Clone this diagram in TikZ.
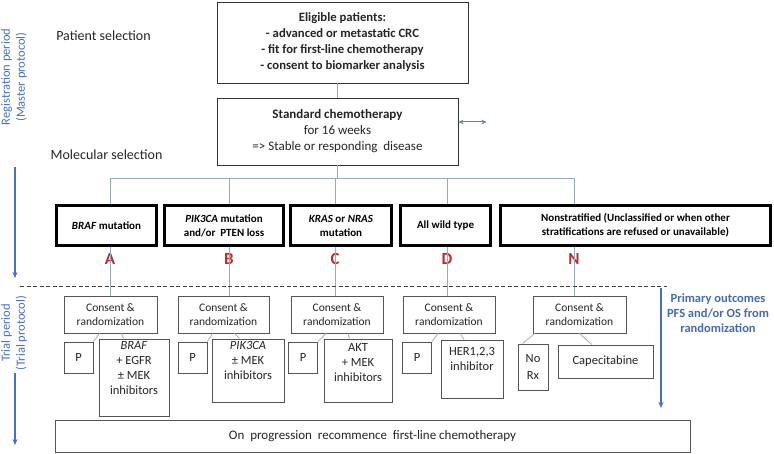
\documentclass[tikz,border=0pt]{standalone}
\usepackage{fontspec}
\setmainfont{Carlito}
\usetikzlibrary{arrows.meta}
\definecolor{periodblue}{RGB}{74,112,190}
\definecolor{outblue}{RGB}{70,106,170}
\definecolor{armred}{RGB}{190,45,45}
\definecolor{linkgray}{RGB}{150,170,192}
\definecolor{twiggray}{RGB}{175,182,190}
\definecolor{boxgray}{RGB}{85,85,85}
\definecolor{steelarrow}{RGB}{95,130,165}

\begin{document}
\begin{tikzpicture}[x=1pt,y=-1pt,
  thinbox/.style={draw=boxgray,line width=0.9pt,fill=white,align=center,inner sep=0pt,text=black!85},
  consent/.style={thinbox,minimum height=37,font=\fontsize{11.5}{14}\selectfont},
  pbox/.style={thinbox,minimum width=29,minimum height=31,font=\fontsize{12.5}{15}\selectfont},
  ttext/.style={anchor=north,align=center,inner sep=0pt,font=\fontsize{12.5}{15}\selectfont,text=black!85},
  armbox/.style={draw=black,line width=2.6pt,fill=white,align=center,inner sep=0pt,minimum height=40.4,font=\fontsize{11}{14}\selectfont\bfseries},
  arm/.style={text=armred,font=\fontsize{17}{17}\selectfont\bfseries,inner sep=0pt},
  link/.style={draw=linkgray,line width=0.9pt},
  twig/.style={draw=twiggray,line width=0.9pt},
  period/.style={draw=periodblue,line width=1.4pt,-{Stealth[length=6pt,width=5pt]}},
  periodtext/.style={text=periodblue,rotate=90,align=center,font=\fontsize{12.5}{15}\selectfont},
  steptext/.style={text=black!85,font=\fontsize{14}{16}\selectfont}]
\useasboundingbox (0,0) rectangle (774,454);

\node[steptext] (psel) at (103.5,36) {Patient selection};
\node[steptext] (msel) at (106.5,155) {Molecular selection};
\node[periodtext] (reg) at (14,77) {Registration period\\(Master protocol)};
\node[periodtext] (trial) at (14,333) {Trial period\\(Trial protocol)};

\node[thinbox,draw=black!80,minimum width=251,minimum height=81,font=\fontsize{12.7}{16}\selectfont\bfseries] (elig) at (342.5,42.5)
  {Eligible patients:\\- advanced or metastatic CRC\\- fit for first-line chemotherapy\\- consent to biomarker analysis};
\node[thinbox,draw=black!80,minimum width=241,minimum height=67,font=\fontsize{13}{16}\selectfont] (chemo) at (337.5,131.5)
  {\textbf{Standard chemotherapy}\\for 16 weeks\\=> Stable or responding~ disease};
\draw[link] (chemo.north) -- (chemo.north |- elig.south);
\draw[draw=steelarrow,line width=1pt,{Stealth[length=5pt,width=4.5pt]}-{Stealth[length=5pt,width=4.5pt]}] ([yshift=9.5pt]chemo.east) -- ++(28,0);

\node[consent,minimum width=93] (cA) at (110.5,314.5) {Consent \&\\randomization};
\node[consent,minimum width=91] (cB) at (223.5,314.5) {Consent \&\\randomization};
\node[consent,minimum width=92] (cC) at (337,314.5) {Consent \&\\randomization};
\node[consent,minimum width=92] (cD) at (449,314.5) {Consent \&\\randomization};
\node[consent,minimum width=93] (cN) at (579.5,314.5) {Consent \&\\randomization};

\node[arm] (lA) at (110,259) {A};
\node[arm] (lB) at (229,259) {B};
\node[arm] (lC) at (335,259) {C};
\node[arm] (lD) at (447,259) {D};
\node[arm] (lN) at (574,259) {N};

\coordinate (hub) at (337,178);
\draw[link] (chemo.south) -- (chemo.south |- hub);
\draw[link] (lA |- hub) -- (lN |- hub);
\foreach \g in {A,B,C,D,N}
  \draw[link] (l\g |- hub) -- (l\g |- c\g.north);

\node[armbox,minimum width=100.4] (kA) at (106.5,225.5) {\textit{BRAF} mutation};
\node[armbox,minimum width=119.4] (kB) at (224,225.5) {\textit{PIK3CA} mutation\\and/or~ PTEN loss};
\node[armbox,minimum width=101.4] (kC) at (341,225.5) {\textit{KRAS} or \textit{NRAS}\\mutation};
\node[armbox,minimum width=90.4] (kD) at (445.5,225.5) {All wild type};
\node[armbox,minimum width=270.4] (kN) at (635.5,225.5) {Nonstratified (Unclassified or when other\\stratifications are refused or unavailable)};

\draw[draw=black!75,line width=0.8pt,dash pattern=on 4pt off 2.5pt] (20,286) -- (667,286);

\node[pbox] (pA) at (78.5,357.5) {P};
\node[pbox] (pB) at (192.5,357.5) {P};
\node[pbox] (pC) at (303,357.5) {P};
\node[pbox] (pD) at (417,357.5) {P};

\node[thinbox,minimum width=70,minimum height=77,label={[ttext,yshift=-3pt]north:{\textit{BRAF}\\+ EGFR\\± MEK\\inhibitors}}] (tA) at (134,377.5) {};
\node[thinbox,minimum width=72,minimum height=63,label={[ttext,yshift=-3pt]north:{\textit{PIK3CA}\\± MEK\\inhibitors}}] (tB) at (248,370.5) {};
\node[thinbox,minimum width=68,minimum height=63,label={[ttext,yshift=-5pt]north:{AKT\\+ MEK\\inhibitors}}] (tC) at (358,370.5) {};
\node[thinbox,minimum width=62,minimum height=58,label={[ttext,yshift=-8pt]north:{HER1,2,3\\inhibitor}}] (tD) at (472,369) {};
\node[thinbox,minimum width=30,minimum height=46,font=\fontsize{12.5}{17}\selectfont] (norx) at (533,367) {No\\Rx};
\node[thinbox,minimum width=95,minimum height=33,font=\fontsize{12.5}{15}\selectfont] (cape) at (605.5,361.5) {Capecitabine};

\foreach \g in {A,B,C,D} {
  \draw[twig] (c\g.240) -- (p\g.north east);
  \draw[twig] (c\g.300) -- (t\g.105);
}
\draw[twig] (cN.203) -- (norx.114);
\draw[twig] (cN.south) -- (cape.129);

\node[thinbox,minimum width=635,minimum height=32,font=\fontsize{13}{15}\selectfont] (prog) at (372.5,436)
  {On~ progression~ recommence~ first-line chemotherapy};

\coordinate (rtop) at (15,167);
\coordinate (rbot) at (15,278);
\coordinate (ttop) at (15,373);
\coordinate (tbot) at (15,445);
\coordinate (otop) at (661,288);
\coordinate (obot) at (661,408);
\draw[period] (rtop) -- (rbot);
\draw[period] (ttop) -- (tbot);
\draw[period] (otop) -- (obot);
\node[text=outblue,align=center,font=\fontsize{12.5}{15}\selectfont\bfseries] (outc) at (718,313)
  {Primary outcomes\\PFS and/or OS from\\randomization};
\end{tikzpicture}
\end{document}
